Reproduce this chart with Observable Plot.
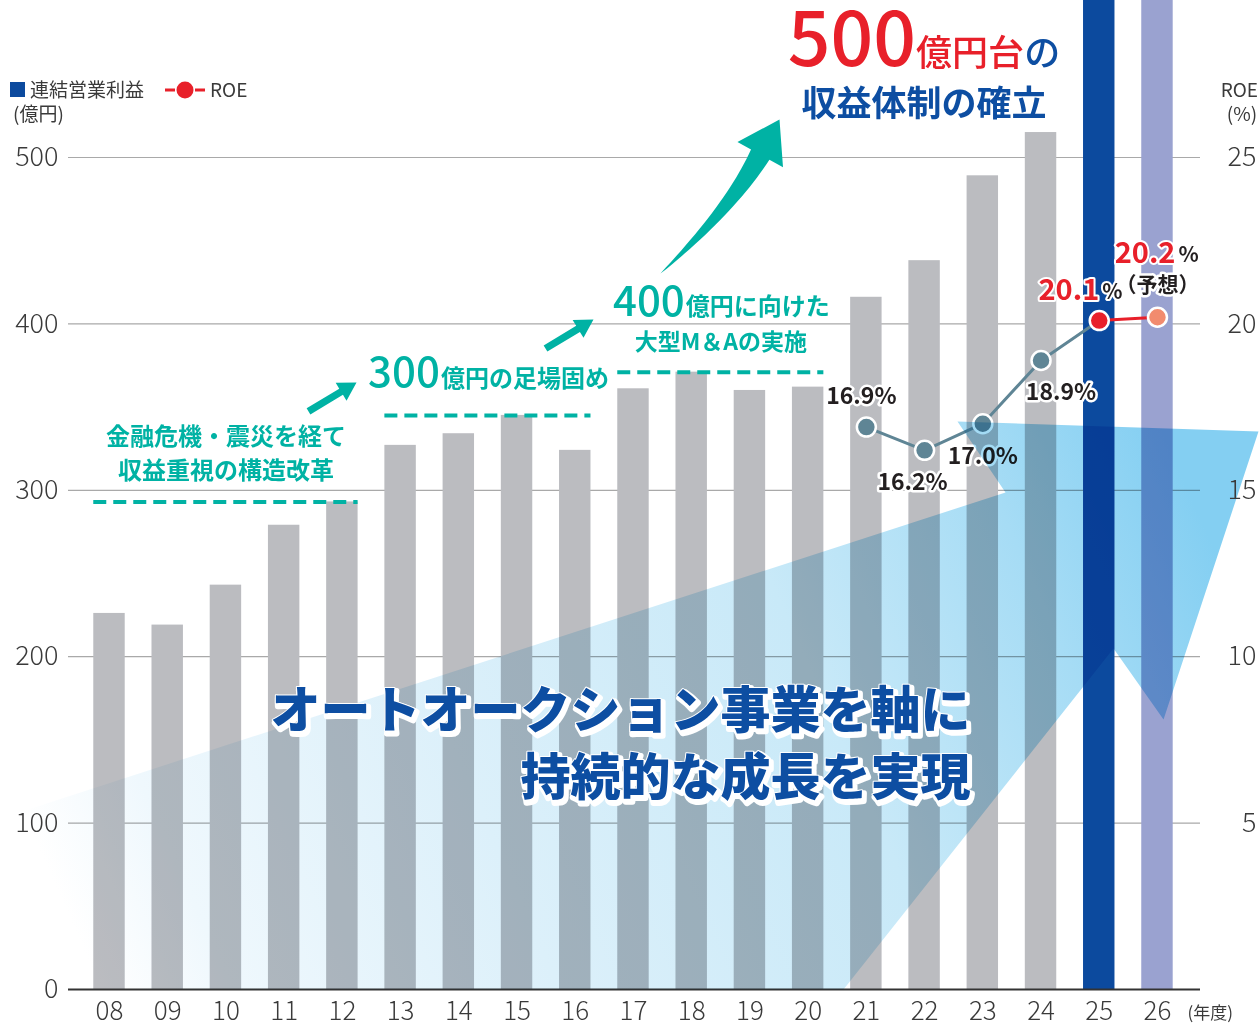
<!DOCTYPE html>
<html>
<head>
<meta charset="utf-8">
<script src="https://cdn.jsdelivr.net/npm/d3@7"></script>
<script src="https://cdn.jsdelivr.net/npm/@observablehq/plot@0.6"></script>
<style>
  body { margin: 0; background: #fff; }
  #chart { width: 1259px; height: 1025px; }
</style>
</head>
<body>
<div id="chart"></div>
<script>
// ---------------- DATA ----------------
const years = ["08","09","10","11","12","13","14","15","16","17","18","19","20","21","22","23","24","25","26"];
// 連結営業利益 (億円); FY25 / FY26 are shown as full-height highlight columns
const operatingProfit = [226,219,243,279,293,327,334,345,324,361,371,360,362,416,438,489,515,null,null];
const highlightYears = ["25","26"];
const roeYears = ["21","22","23","24","25","26"];
const roeValues = [16.9,16.2,17.0,18.9,20.1,20.2];
const leftTicks = [0,100,200,300,400,500];
const rightTicks = [5,10,15,20,25];
const periodFrom = ["08","13","17"];
const periodTo = ["12","16","20"];
const periodHeadline = ["", "300", "400"];
const periodText = ["金融危機・震災を経て\n収益重視の構造改革", "億円の足場固め", "億円に向けた"];
const periodSub = ["", "", "大型M＆Aの実施"];
const headline = ["500", "億円台", "の", "収益体制の確立"];
const message = "オートオークション事業を軸に\n持続的な成長を実現";

// ---------------- LAYOUT ----------------
const W = 1259, H = 1025, mT = 0, mB = 36, mL = 68, mR = 59;
const xDomain = [-0.704, 18.739];
const yDomain = [0, 594.35];
const xs = d3.scaleLinear(xDomain, [mL, W - mR]);
const ys = d3.scaleLinear(yDomain, [H - mB, mT]);
const pxX = xs(1) - xs(0), pxY = ys(0) - ys(1);
const roeToY = r => r * 20;           // 25% ↔ 500
const half = 0.27;                    // half bar width (in year-index units)
const FONT = '"Noto Sans CJK JP","Noto Sans",sans-serif';
const teal = "#00b2a4", red = "#e8202a", navy = "#0d4ea2", dark = "#231f20", axisText = "#3a3a3a";

const idx = y => years.indexOf(y);
const barData = years.map((year, i) => ({year, i, value: operatingProfit[i]})).filter(d => d.value != null);
const roeData = roeYears.map((year, k) => ({year, i: idx(year), roe: roeValues[k]}));
const segs = periodFrom.map((f, k) => {
  const i0 = idx(f), i1 = idx(periodTo[k]);
  return {k, i0, i1, xc: (i0 + i1) / 2, level: d3.max(operatingProfit.slice(i0, i1 + 1))};
});

// decorative growth arrow outline (year-index, 億円 units)
const growthArrowOutline = [[-1.872,102.8],[15.39,298.7],[14.565,341.3],[19.735,335.3],[18.104,162.3],[17.245,204.9],[12.607,0],[-1.872,0]];
// teal arrows: tail & tip (year-index, 億円 units)
const arrowStraight = [[[3.418,347.4],[4.243,364.8]], [[7.489,385.2],[8.313,402.6]]];
const arrowCurved = [[9.464,430.3],[11.508,522.8]];
// message anchor (right end of text, baseline of last line)
const messageAnchor = [14.79, 116.6];

const toPx = ([x, y]) => [xs(x), ys(y)];
const toData = ([px, py]) => ({x: xs.invert(px), y: ys.invert(py)});

function straightArrow(tail, tip, shaftW = 3.6, headL = 18, headW = 10.5) {
  const T = toPx(tail), P = toPx(tip);
  const dx = P[0] - T[0], dy = P[1] - T[1], L = Math.hypot(dx, dy);
  const u = [dx / L, dy / L], n = [-u[1], u[0]];
  const B = [P[0] - u[0] * headL, P[1] - u[1] * headL];
  const pts = [
    [T[0] + n[0] * shaftW, T[1] + n[1] * shaftW],
    [B[0] + n[0] * shaftW, B[1] + n[1] * shaftW],
    [B[0] + n[0] * headW, B[1] + n[1] * headW],
    P,
    [B[0] - n[0] * headW, B[1] - n[1] * headW],
    [B[0] - n[0] * shaftW, B[1] - n[1] * shaftW],
    [T[0] - n[0] * shaftW, T[1] - n[1] * shaftW]
  ];
  return pts.map(toData);
}

function curvedArrow(tail, tip) {
  const T = toPx(tail), P = toPx(tip);
  const cx = P[0] - T[0], cy = P[1] - T[1];
  const ang = Math.atan2(cy, cx) - 8.9 * Math.PI / 180;
  const u = [Math.cos(ang), Math.sin(ang)];
  const headL = 40, headW = 26, shaftMax = 10.5;
  const B = [P[0] - u[0] * headL, P[1] - u[1] * headL];
  const C = [B[0] - u[0] * 62, B[1] - u[1] * 62];
  const N = 24, left = [], right = [];
  for (let s = 0; s <= N; s++) {
    const t = s / N;
    const p = [(1-t)*(1-t)*T[0] + 2*(1-t)*t*C[0] + t*t*B[0], (1-t)*(1-t)*T[1] + 2*(1-t)*t*C[1] + t*t*B[1]];
    const d = [2*(1-t)*(C[0]-T[0]) + 2*t*(B[0]-C[0]), 2*(1-t)*(C[1]-T[1]) + 2*t*(B[1]-C[1])];
    const dl = Math.hypot(d[0], d[1]);
    const n = [-d[1] / dl, d[0] / dl];
    const w = shaftMax * Math.pow(t, 0.85);
    left.push([p[0] + n[0] * w, p[1] + n[1] * w]);
    right.push([p[0] - n[0] * w, p[1] - n[1] * w]);
  }
  const nB = [-u[1], u[0]];
  const pts = [...left,
    [B[0] + nB[0] * headW, B[1] + nB[1] * headW], P, [B[0] - nB[0] * headW, B[1] - nB[1] * headW],
    ...right.reverse()];
  return pts.map(toData);
}

const roeLabelOffset = {"21": [-5, -30], "22": [-12, 32], "23": [0, 33], "24": [20, 32]};
const offX = (d, px) => d.i + px / pxX;
const offY = (v, py) => v - py / pxY;

const plot = Plot.plot({
  width: W, height: H,
  marginTop: mT, marginBottom: mB, marginLeft: mL, marginRight: mR,
  x: {type: "linear", domain: xDomain, axis: null},
  y: {type: "linear", domain: yDomain, axis: null},
  style: {fontFamily: FONT, background: "#fff", overflow: "visible"},
  marks: [
    // grid
    Plot.ruleY(leftTicks.filter(d => d > 0), {stroke: "#a9a9a9", strokeWidth: 1.2}),
    // bars
    Plot.rect(barData, {x1: d => d.i - half, x2: d => d.i + half, y1: 0, y2: "value", fill: "#bbbcc0"}),
    Plot.rect(highlightYears.slice(0, 1), {x1: d => idx(d) - half, x2: d => idx(d) + half, y1: 0, y2: () => yDomain[1], fill: "#0c4a9e"}),
    Plot.rect(highlightYears.slice(1, 2), {x1: d => idx(d) - half, x2: d => idx(d) + half, y1: 0, y2: () => yDomain[1], fill: "#9aa2d0"}),
    // baseline
    Plot.ruleY([0], {stroke: "#333", strokeWidth: 2}),
    // period dashed lines
    Plot.ruleY(segs, {y: "level", x1: d => d.i0 - half, x2: d => d.i1 + half, stroke: teal, strokeWidth: 4, strokeDasharray: "13,7"}),
    // period annotations
    Plot.text(segs.slice(0, 1), {x: "xc", y: "level", text: d => periodText[d.k], lineAnchor: "bottom", dy: -23, lineHeight: 1.42, fontSize: 24, fontWeight: 600, fill: teal}),
    Plot.text(segs.slice(1, 2), {x: "xc", y: "level", text: d => periodHeadline[d.k], lineAnchor: "bottom", textAnchor: "end", dx: -48, dy: -28, fontSize: 42, fontWeight: 500, fill: teal}),
    Plot.text(segs.slice(1, 2), {x: "xc", y: "level", text: d => periodText[d.k], lineAnchor: "bottom", textAnchor: "start", dx: -47, dy: -28, fontSize: 24, fontWeight: 600, fill: teal}),
    Plot.text(segs.slice(2, 3), {x: "xc", y: "level", text: d => periodHeadline[d.k], lineAnchor: "bottom", textAnchor: "end", dx: -36, dy: -56, fontSize: 42, fontWeight: 500, fill: teal}),
    Plot.text(segs.slice(2, 3), {x: "xc", y: "level", text: d => periodText[d.k], lineAnchor: "bottom", textAnchor: "start", dx: -35, dy: -57, fontSize: 24, fontWeight: 600, fill: teal}),
    Plot.text(segs.slice(2, 3), {x: "xc", y: "level", text: d => periodSub[d.k], lineAnchor: "bottom", dy: -22, fontSize: 23, fontWeight: 600, fill: teal}),
    // teal arrows
    ...arrowStraight.map(([a, b]) => Plot.line(straightArrow(a, b), {x: "x", y: "y", fill: teal, stroke: "none"})),
    Plot.line(curvedArrow(...arrowCurved), {x: "x", y: "y", fill: teal, stroke: "none"}),
    // ROE line
    Plot.line(roeData.slice(0, 5), {x: "i", y: d => roeToY(d.roe), stroke: "#5f8595", strokeWidth: 3}),
    Plot.line(roeData.slice(4), {x: "i", y: d => roeToY(d.roe), stroke: red, strokeWidth: 3}),
    Plot.dot(roeData.slice(0, 4), {x: "i", y: d => roeToY(d.roe), r: 9.5, fill: "#5f8595", stroke: "#fff", strokeWidth: 2.5}),
    Plot.dot(roeData.slice(4, 5), {x: "i", y: d => roeToY(d.roe), r: 9.5, fill: red, stroke: "#fff", strokeWidth: 2.5}),
    Plot.dot(roeData.slice(5), {x: "i", y: d => roeToY(d.roe), r: 9.5, fill: "#f28b6e", stroke: "#fff", strokeWidth: 2.5}),
    // ROE labels
    Plot.text(roeData.filter(d => roeLabelOffset[d.year]), {
      x: d => offX(d, roeLabelOffset[d.year][0]), y: d => offY(roeToY(d.roe), roeLabelOffset[d.year][1]),
      text: d => d.roe.toFixed(1) + "%", fontSize: 23, fontWeight: 600, fill: dark, stroke: "#fff", strokeWidth: 5
    }),
    Plot.text(roeData.slice(4, 5), {x: d => offX(d, 0), y: d => offY(roeToY(d.roe), -30), text: d => d.roe.toFixed(1), textAnchor: "end", fontSize: 29, fontWeight: 700, fill: red, stroke: "#fff", strokeWidth: 4}),
    Plot.text(roeData.slice(4, 5), {x: d => offX(d, 3), y: d => offY(roeToY(d.roe), -28), text: () => "%", textAnchor: "start", fontSize: 21, fontWeight: 600, fill: dark, stroke: "#fff", strokeWidth: 4}),
    Plot.text(roeData.slice(5), {x: d => offX(d, 18), y: d => offY(roeToY(d.roe), -64), text: d => d.roe.toFixed(1), textAnchor: "end", fontSize: 29, fontWeight: 700, fill: red, stroke: "#fff", strokeWidth: 4}),
    Plot.text(roeData.slice(5), {x: d => offX(d, 21), y: d => offY(roeToY(d.roe), -62), text: () => "%", textAnchor: "start", fontSize: 21, fontWeight: 600, fill: dark, stroke: "#fff", strokeWidth: 4}),
    Plot.text(roeData.slice(5), {x: d => offX(d, 0), y: d => offY(roeToY(d.roe), -32), text: () => "（予想）", fontSize: 21, fontWeight: 600, fill: dark, stroke: "#fff", strokeWidth: 5}),
    // growth arrow (translucent)
    Plot.line(growthArrowOutline, {x: d => d[0], y: d => d[1], fill: "url(#growgrad)", stroke: "none", mixBlendMode: "multiply"}),
    // message
    Plot.text([message], {x: () => messageAnchor[0] + 2 / pxX, y: () => messageAnchor[1] - 3 / pxY, text: d => d, textAnchor: "end", lineAnchor: "bottom", lineHeight: 1.34, fontSize: 50, fontWeight: 900, fill: "#fff", stroke: "#fff", strokeWidth: 6}),
    Plot.text([message], {x: () => messageAnchor[0], y: () => messageAnchor[1], text: d => d, textAnchor: "end", lineAnchor: "bottom", lineHeight: 1.34, fontSize: 50, fontWeight: 900, fill: navy, stroke: "#fff", strokeWidth: 2}),
    // axes labels
    Plot.text(leftTicks, {y: d => d, text: d => String(d), frameAnchor: "left", dx: -10, textAnchor: "end", lineAnchor: "middle", fontSize: 27, fontWeight: 300, fill: axisText}),
    Plot.text(rightTicks, {y: d => roeToY(d), text: d => String(d), frameAnchor: "right", dx: 56, textAnchor: "end", lineAnchor: "middle", fontSize: 27, fontWeight: 300, fill: axisText}),
    Plot.text(years, {x: (d, i) => i, text: d => d, frameAnchor: "bottom", lineAnchor: "middle", dy: 22, fontSize: 26, fontWeight: 300, fill: axisText}),
    Plot.text(["(年度)"], {frameAnchor: "bottom-right", textAnchor: "start", lineAnchor: "middle", dx: -13, dy: 24, text: d => d, fontSize: 17, fill: axisText})
  ]
});

// gradient for the growth arrow
const svg = d3.select(plot);
const grad = svg.insert("defs", ":first-child").append("linearGradient")
  .attr("id", "growgrad").attr("x1", 0).attr("y1", 0.6).attr("x2", 1).attr("y2", 0.4);
[[0, "#ffffff"], [0.1, "#eff8fd"], [0.35, "#dcf0fa"], [0.65, "#c8e9f8"], [0.85, "#a6dcf5"], [1, "#84cff2"]]
  .forEach(([o, c]) => grad.append("stop").attr("offset", o).attr("stop-color", c));

// headline
const h = svg.append("g").attr("font-family", FONT);
const t1 = h.append("text").attr("x", 924).attr("y", 66).attr("text-anchor", "middle");
t1.append("tspan").attr("font-size", 75).attr("font-weight", 500).attr("fill", red).text(headline[0]);
t1.append("tspan").attr("font-size", 36).attr("font-weight", 500).attr("fill", red).text(headline[1]);
t1.append("tspan").attr("font-size", 36).attr("font-weight", 500).attr("fill", navy).text(headline[2]);
h.append("text").attr("x", 924).attr("y", 116).attr("text-anchor", "middle")
  .attr("font-size", 35).attr("font-weight", 700).attr("fill", navy).text(headline[3]);

// legend & axis titles
const lg = svg.append("g").attr("font-family", FONT).attr("fill", axisText).attr("font-size", 19).attr("text-anchor", "start");
lg.append("rect").attr("x", 10).attr("y", 82).attr("width", 15).attr("height", 15).attr("fill", "#0c4a9e");
lg.append("text").attr("x", 30).attr("y", 97).text("連結営業利益");
lg.append("line").attr("x1", 165).attr("x2", 205).attr("y1", 90).attr("y2", 90).attr("stroke", red).attr("stroke-width", 3).attr("stroke-dasharray", "10,20");
lg.append("circle").attr("cx", 185).attr("cy", 90).attr("r", 8.5).attr("fill", red);
lg.append("text").attr("x", 210).attr("y", 97).text("ROE");
lg.append("text").attr("x", 13).attr("y", 121).text("(億円)");
lg.append("text").attr("x", 1258).attr("y", 97).attr("text-anchor", "end").text("ROE");
lg.append("text").attr("x", 1242).attr("y", 121).attr("text-anchor", "middle").text("(%)");

document.getElementById("chart").appendChild(plot);
</script>
</body>
</html>
